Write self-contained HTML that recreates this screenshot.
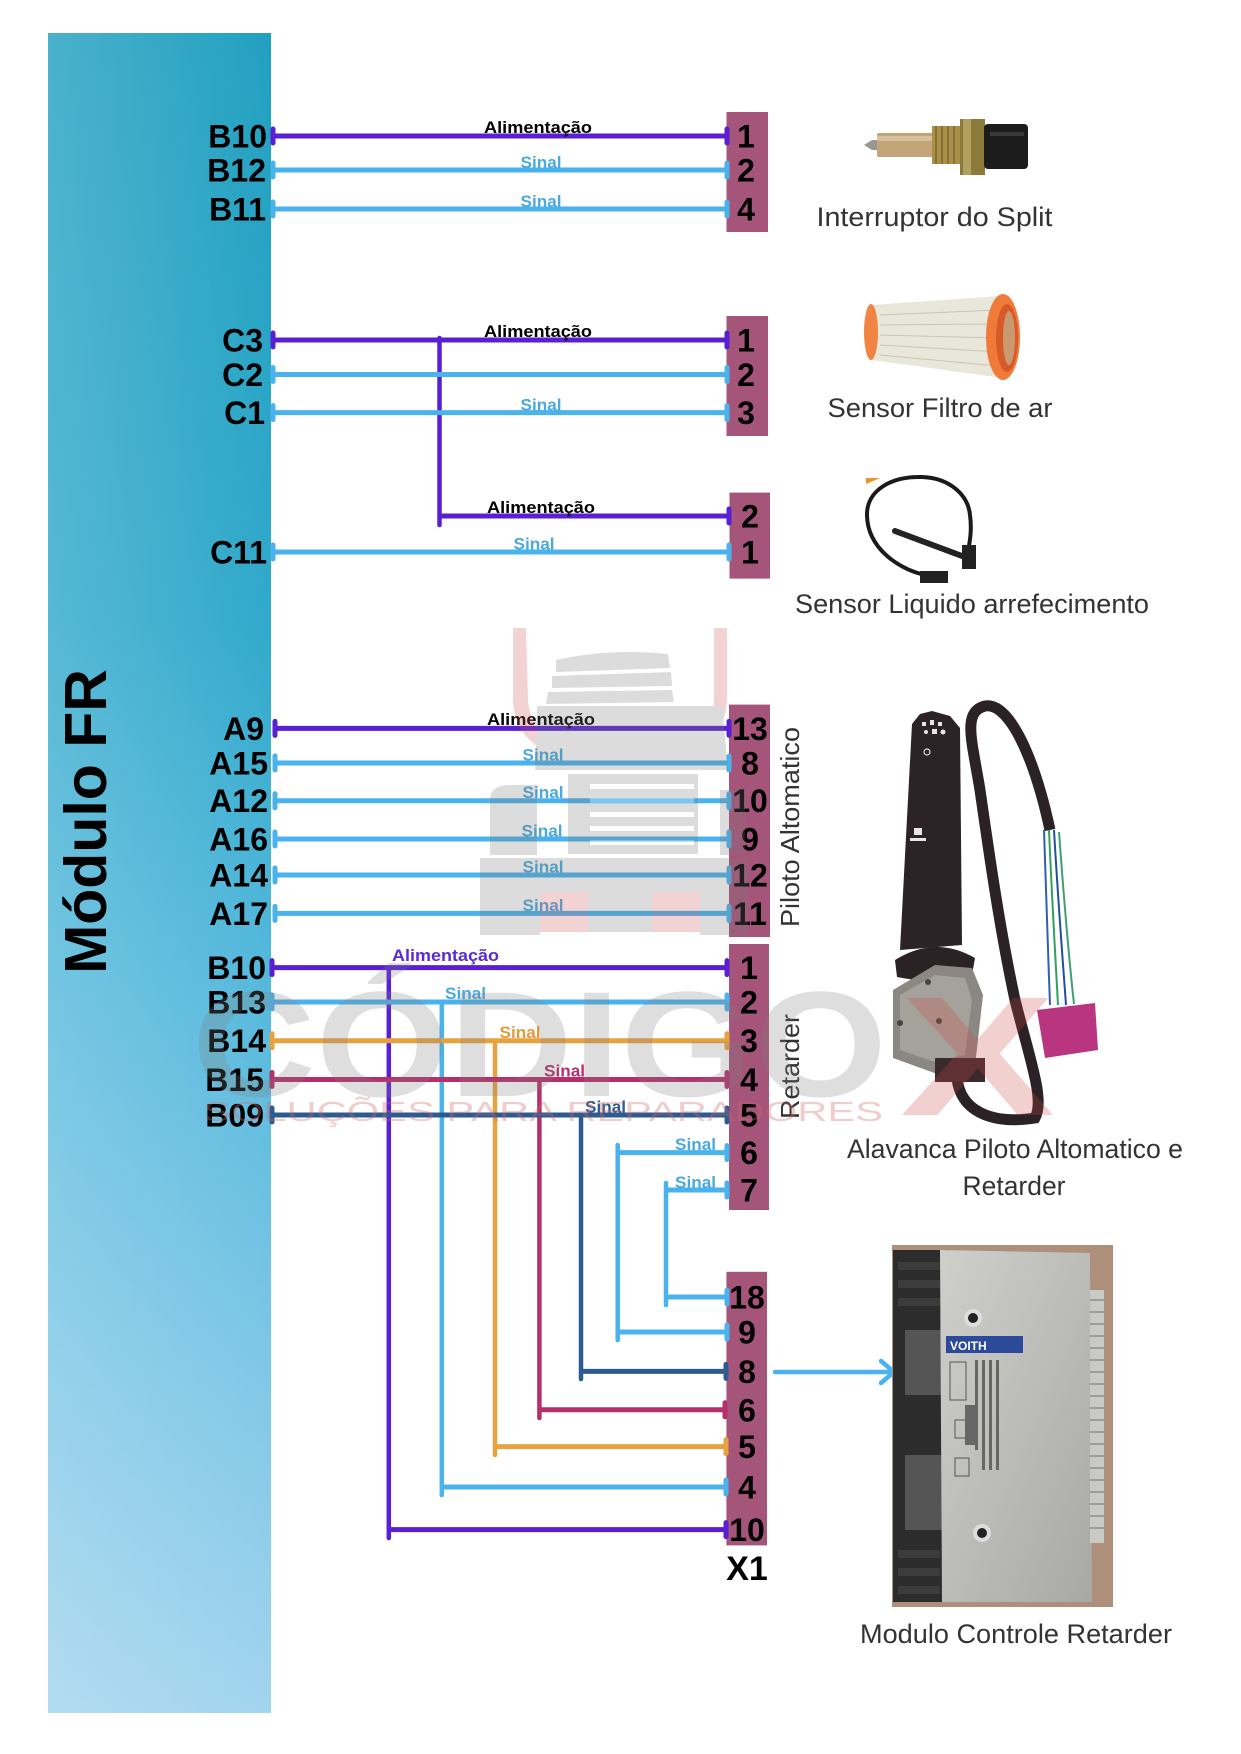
<!DOCTYPE html>
<html><head><meta charset="utf-8"><style>html,body{margin:0;padding:0;background:#fff}svg{display:block}</style></head>
<body>
<svg width="1241" height="1754" viewBox="0 0 1241 1754" xmlns="http://www.w3.org/2000/svg" font-family="'Liberation Sans', Arial, sans-serif">
<defs>
 <linearGradient id="bar" gradientUnits="userSpaceOnUse" x1="0" y1="33" x2="0" y2="1713">
  <stop offset="0" stop-color="#22a0c0"/>
  <stop offset="0.35" stop-color="#31a9cb"/>
  <stop offset="0.57" stop-color="#56b9dc"/>
  <stop offset="0.78" stop-color="#7cc6e6"/>
  <stop offset="1" stop-color="#a2d4ee"/>
 </linearGradient>
 <linearGradient id="barh" x1="0" y1="0" x2="1" y2="0">
  <stop offset="0" stop-color="#fff" stop-opacity="0.18"/>
  <stop offset="1" stop-color="#fff" stop-opacity="0"/>
 </linearGradient>
 <linearGradient id="silver" x1="0" y1="0" x2="1" y2="1">
  <stop offset="0" stop-color="#cfcfcc"/>
  <stop offset="1" stop-color="#a8a8a5"/>
 </linearGradient>
</defs>
<rect width="1241" height="1754" fill="#fff"/>
<rect x="48" y="33" width="223" height="1680" fill="url(#bar)"/>
<rect x="48" y="33" width="223" height="1680" fill="url(#barh)"/>
<text transform="translate(106,821.5) rotate(-90)" text-anchor="middle" font-size="59" font-weight="bold" fill="#000">Módulo FR</text>

<!-- connector boxes -->
<g fill="#a6557a">
 <rect x="726.5" y="112" width="41.5" height="120"/>
 <rect x="726.5" y="316" width="41.5" height="120"/>
 <rect x="729.5" y="492.6" width="40.5" height="86"/>
 <rect x="729" y="704.6" width="41" height="232.4"/>
 <rect x="729" y="944" width="40" height="266"/>
 <rect x="726.4" y="1271.8" width="40.6" height="273.6"/>
</g>

<!-- purple -->
<g stroke="#5a1fd3" fill="none" stroke-linecap="round">
 <g stroke-width="5" stroke-linecap="butt">
  <line x1="273" y1="136" x2="727" y2="136"/>
  <line x1="273" y1="340" x2="727" y2="340"/>
  <line x1="439.5" y1="516" x2="729" y2="516"/>
  <line x1="275" y1="728.4" x2="729" y2="728.4"/>
  <line x1="272" y1="967.6" x2="727" y2="967.6"/>
  <line x1="388.8" y1="1529.6" x2="726" y2="1529.6"/>
 </g>
 <g stroke-width="4.5">
  <line x1="439.5" y1="338" x2="439.5" y2="525"/>
  <line x1="388.8" y1="967.6" x2="388.8" y2="1538"/>
 </g>
 <g stroke-width="5">
  <line x1="273" y1="129" x2="273" y2="143"/><line x1="727" y1="129" x2="727" y2="143"/>
  <line x1="273" y1="333" x2="273" y2="347"/><line x1="727" y1="333" x2="727" y2="347"/>
  <line x1="729" y1="509" x2="729" y2="523"/>
  <line x1="275" y1="721.4" x2="275" y2="735.4"/><line x1="729" y1="721.4" x2="729" y2="735.4"/>
  <line x1="272" y1="960.6" x2="272" y2="974.6"/><line x1="727" y1="960.6" x2="727" y2="974.6"/>
  <line x1="726" y1="1522.6" x2="726" y2="1536.6"/>
 </g>
</g>

<!-- light blue -->
<g stroke="#4ab2ec" fill="none" stroke-linecap="round">
 <g stroke-width="5" stroke-linecap="butt">
  <line x1="273" y1="170" x2="727" y2="170"/>
  <line x1="273" y1="209" x2="727" y2="209"/>
  <line x1="273" y1="374.5" x2="727" y2="374.5"/>
  <line x1="273" y1="412.6" x2="727" y2="412.6"/>
  <line x1="273" y1="552" x2="729" y2="552"/>
  <line x1="275" y1="763" x2="729" y2="763"/>
  <line x1="275" y1="800.7" x2="729" y2="800.7"/>
  <line x1="275" y1="839" x2="729" y2="839"/>
  <line x1="275" y1="875" x2="729" y2="875"/>
  <line x1="275" y1="913.4" x2="729" y2="913.4"/>
  <line x1="272" y1="1002" x2="727" y2="1002"/>
  <line x1="617.7" y1="1152.6" x2="727" y2="1152.6"/>
  <line x1="666" y1="1190" x2="727" y2="1190"/>
  <line x1="666" y1="1297" x2="727" y2="1297"/>
  <line x1="617.7" y1="1332" x2="727" y2="1332"/>
  <line x1="441.8" y1="1487" x2="726" y2="1487"/>
 </g>
 <g stroke-width="4.5">
  <line x1="441.8" y1="1002" x2="441.8" y2="1495"/>
  <line x1="617.7" y1="1145" x2="617.7" y2="1340"/>
  <line x1="666" y1="1183" x2="666" y2="1305"/>
 </g>
 <g stroke-width="5">
  <line x1="273" y1="163" x2="273" y2="177"/><line x1="727" y1="163" x2="727" y2="177"/>
  <line x1="273" y1="202" x2="273" y2="216"/><line x1="727" y1="202" x2="727" y2="216"/>
  <line x1="273" y1="367.5" x2="273" y2="381.5"/><line x1="727" y1="367.5" x2="727" y2="381.5"/>
  <line x1="273" y1="405.6" x2="273" y2="419.6"/><line x1="727" y1="405.6" x2="727" y2="419.6"/>
  <line x1="273" y1="545" x2="273" y2="559"/><line x1="729" y1="545" x2="729" y2="559"/>
  <line x1="275" y1="756" x2="275" y2="770"/><line x1="729" y1="756" x2="729" y2="770"/>
  <line x1="275" y1="793.7" x2="275" y2="807.7"/><line x1="729" y1="793.7" x2="729" y2="807.7"/>
  <line x1="275" y1="832" x2="275" y2="846"/><line x1="729" y1="832" x2="729" y2="846"/>
  <line x1="275" y1="868" x2="275" y2="882"/><line x1="729" y1="868" x2="729" y2="882"/>
  <line x1="275" y1="906.4" x2="275" y2="920.4"/><line x1="729" y1="906.4" x2="729" y2="920.4"/>
  <line x1="272" y1="995" x2="272" y2="1009"/><line x1="727" y1="995" x2="727" y2="1009"/>
  <line x1="727" y1="1145.6" x2="727" y2="1159.6"/>
  <line x1="727" y1="1183" x2="727" y2="1197"/>
  <line x1="727" y1="1290" x2="727" y2="1304"/>
  <line x1="727" y1="1325" x2="727" y2="1339"/>
  <line x1="726" y1="1480" x2="726" y2="1494"/>
 </g>
 <!-- arrow -->
 <line x1="775" y1="1372" x2="893" y2="1372" stroke-width="4.5"/>
 <polyline points="881,1361 894,1372 881,1383" stroke-width="4.5" stroke-linejoin="round"/>
</g>

<!-- orange -->
<g stroke="#e7a240" fill="none" stroke-linecap="round">
 <line x1="272" y1="1040.7" x2="727" y2="1040.7" stroke-width="5" stroke-linecap="butt"/>
 <line x1="495" y1="1446.6" x2="726" y2="1446.6" stroke-width="5" stroke-linecap="butt"/>
 <line x1="495" y1="1040.7" x2="495" y2="1455" stroke-width="4.5"/>
 <g stroke-width="5">
  <line x1="272" y1="1033.7" x2="272" y2="1047.7"/><line x1="727" y1="1033.7" x2="727" y2="1047.7"/>
  <line x1="726" y1="1439.6" x2="726" y2="1453.6"/>
 </g>
</g>

<!-- magenta -->
<g stroke="#b52f6a" fill="none" stroke-linecap="round">
 <line x1="272" y1="1079.5" x2="727" y2="1079.5" stroke-width="5" stroke-linecap="butt"/>
 <line x1="539.4" y1="1409.8" x2="725" y2="1409.8" stroke-width="5" stroke-linecap="butt"/>
 <line x1="539.4" y1="1079.5" x2="539.4" y2="1418" stroke-width="4.5"/>
 <g stroke-width="5">
  <line x1="272" y1="1072.5" x2="272" y2="1086.5"/><line x1="727" y1="1072.5" x2="727" y2="1086.5"/>
  <line x1="725" y1="1402.8" x2="725" y2="1416.8"/>
 </g>
</g>

<!-- dark blue -->
<g stroke="#2e5b8f" fill="none" stroke-linecap="round">
 <line x1="272" y1="1115" x2="727" y2="1115" stroke-width="5" stroke-linecap="butt"/>
 <line x1="581" y1="1371.4" x2="726" y2="1371.4" stroke-width="5" stroke-linecap="butt"/>
 <line x1="581" y1="1115" x2="581" y2="1379" stroke-width="4.5"/>
 <g stroke-width="5">
  <line x1="272" y1="1108" x2="272" y2="1122"/><line x1="727" y1="1108" x2="727" y2="1122"/>
  <line x1="726" y1="1364.4" x2="726" y2="1378.4"/>
 </g>
</g>

<!-- left labels -->
<g font-size="32" font-weight="bold" fill="#000" text-anchor="end">
 <text x="267" y="147.5">B10</text>
 <text x="266" y="181.5">B12</text>
 <text x="266" y="220.5">B11</text>
 <text x="263" y="351.5">C3</text>
 <text x="263" y="386">C2</text>
 <text x="265" y="424">C1</text>
 <text x="267" y="563.5">C11</text>
 <text x="264" y="740">A9</text>
 <text x="268" y="774.5">A15</text>
 <text x="268" y="812">A12</text>
 <text x="268" y="850.5">A16</text>
 <text x="268" y="886.5">A14</text>
 <text x="268" y="925">A17</text>
 <text x="266" y="979">B10</text>
 <text x="266" y="1013.5">B13</text>
 <text x="266" y="1052">B14</text>
 <text x="264" y="1091">B15</text>
 <text x="264" y="1126.5">B09</text>
</g>

<!-- pin numbers -->
<g font-size="32" font-weight="bold" fill="#000" text-anchor="middle">
 <text x="746" y="147.5">1</text>
 <text x="746" y="181.5">2</text>
 <text x="746" y="220.5">4</text>
 <text x="746" y="351.5">1</text>
 <text x="746" y="386">2</text>
 <text x="746" y="424">3</text>
 <text x="750" y="527.5">2</text>
 <text x="750" y="563.5">1</text>
 <text x="750" y="740">13</text>
 <text x="750" y="774.5">8</text>
 <text x="750" y="812">10</text>
 <text x="750" y="850.5">9</text>
 <text x="750" y="886.5">12</text>
 <text x="750" y="925">11</text>
 <text x="749" y="979">1</text>
 <text x="749" y="1013.5">2</text>
 <text x="749" y="1052">3</text>
 <text x="749" y="1091">4</text>
 <text x="749" y="1126.5">5</text>
 <text x="749" y="1164">6</text>
 <text x="749" y="1201.5">7</text>
 <text x="747" y="1308.5">18</text>
 <text x="747" y="1343.5">9</text>
 <text x="747" y="1383">8</text>
 <text x="747" y="1421.5">6</text>
 <text x="747" y="1458">5</text>
 <text x="747" y="1498.5">4</text>
 <text x="747" y="1541">10</text>
</g>
<text x="747" y="1580" font-size="34" font-weight="bold" text-anchor="middle" fill="#000">X1</text>

<!-- wire labels -->
<g font-size="17" font-weight="bold">
 <g fill="#000" text-anchor="middle">
  <text x="538" y="133" textLength="108" lengthAdjust="spacingAndGlyphs">Alimentação</text>
  <text x="538" y="337" textLength="108" lengthAdjust="spacingAndGlyphs">Alimentação</text>
  <text x="541" y="513" textLength="108" lengthAdjust="spacingAndGlyphs">Alimentação</text>
  <text x="541" y="725" textLength="108" lengthAdjust="spacingAndGlyphs">Alimentação</text>
 </g>
 <text x="392" y="961" fill="#5a2bd0" textLength="107" lengthAdjust="spacingAndGlyphs">Alimentação</text>
 <g fill="#4aa9de" text-anchor="middle">
  <text x="541" y="168" textLength="41" lengthAdjust="spacingAndGlyphs">Sinal</text>
  <text x="541" y="207" textLength="41" lengthAdjust="spacingAndGlyphs">Sinal</text>
  <text x="541" y="410.5" textLength="41" lengthAdjust="spacingAndGlyphs">Sinal</text>
  <text x="534" y="549.5" textLength="41" lengthAdjust="spacingAndGlyphs">Sinal</text>
  <text x="543" y="760.5" textLength="41" lengthAdjust="spacingAndGlyphs">Sinal</text>
  <text x="543" y="798" textLength="41" lengthAdjust="spacingAndGlyphs">Sinal</text>
  <text x="542" y="836.5" textLength="41" lengthAdjust="spacingAndGlyphs">Sinal</text>
  <text x="543" y="872.5" textLength="41" lengthAdjust="spacingAndGlyphs">Sinal</text>
  <text x="543" y="911" textLength="41" lengthAdjust="spacingAndGlyphs">Sinal</text>
 </g>
 <text x="445" y="999" fill="#4aa9de" textLength="41" lengthAdjust="spacingAndGlyphs">Sinal</text>
 <text x="499.5" y="1038" fill="#e39b3a" textLength="41" lengthAdjust="spacingAndGlyphs">Sinal</text>
 <text x="544" y="1076.5" fill="#b52f6a" textLength="41" lengthAdjust="spacingAndGlyphs">Sinal</text>
 <text x="585" y="1112.5" fill="#2e5b8f" textLength="41" lengthAdjust="spacingAndGlyphs">Sinal</text>
 <text x="675" y="1150" fill="#4aa9de" textLength="41" lengthAdjust="spacingAndGlyphs">Sinal</text>
 <text x="675" y="1188" fill="#4aa9de" textLength="41" lengthAdjust="spacingAndGlyphs">Sinal</text>
</g>

<!-- vertical connector names -->
<text transform="translate(799,827) rotate(-90)" text-anchor="middle" font-size="26" fill="#333" textLength="200" lengthAdjust="spacingAndGlyphs">Piloto Altomatico</text>
<text transform="translate(799,1066.5) rotate(-90)" text-anchor="middle" font-size="26" fill="#333" textLength="105" lengthAdjust="spacingAndGlyphs">Retarder</text>

<!-- Interruptor do Split image -->
<g>
 <path d="M864 145 L872 140 L878 140 L878 150 L872 150 Z" fill="#9a9690"/>
 <rect x="877" y="133" width="56" height="24" rx="2" fill="#c4a57a"/>
 <rect x="877" y="136" width="56" height="5" fill="#d8c09a"/>
 <rect x="932" y="126" width="28" height="38" fill="#a89048"/>
 <g stroke="#7a6630" stroke-width="1.5"><line x1="936" y1="126" x2="936" y2="164"/><line x1="942" y1="126" x2="942" y2="164"/><line x1="948" y1="126" x2="948" y2="164"/><line x1="954" y1="126" x2="954" y2="164"/></g>
 <rect x="960" y="119" width="25" height="56" fill="#8c7a3a"/>
 <rect x="963" y="119" width="8" height="56" fill="#b0a060"/>
 <rect x="984" y="124" width="44" height="45" rx="4" fill="#1c1c1c"/>
 <rect x="990" y="132" width="34" height="4" fill="#3a3a3a"/>
</g>
<text x="934.5" y="226" text-anchor="middle" font-size="27" fill="#333" textLength="236" lengthAdjust="spacingAndGlyphs">Interruptor do Split</text>

<!-- Filtro de ar image -->
<g>
 <path d="M872 305 L1000 296 L1003 378 L872 360 Z" fill="#e9e6da"/>
 <g stroke="#c9c5b5" stroke-width="1">
  <line x1="880" y1="315" x2="998" y2="310"/><line x1="880" y1="325" x2="998" y2="324"/><line x1="880" y1="335" x2="998" y2="338"/><line x1="880" y1="345" x2="998" y2="352"/><line x1="880" y1="355" x2="998" y2="366"/>
 </g>
 <ellipse cx="871" cy="332" rx="7" ry="28" fill="#f08444"/>
 <ellipse cx="1003" cy="337" rx="17" ry="43" fill="#f07a3a"/>
 <ellipse cx="1007" cy="338" rx="11" ry="34" fill="#d85a28"/>
 <ellipse cx="1009" cy="338" rx="6" ry="27" fill="#c99a70"/>
</g>
<text x="940" y="417" text-anchor="middle" font-size="27" fill="#333" textLength="225" lengthAdjust="spacingAndGlyphs">Sensor Filtro de ar</text>

<!-- Sensor liquido image -->
<g>
 <polygon points="866,478 880,478 866,484" fill="#f0902a"/>
 <path d="M921 574 C 898 568, 868 548, 867 516 C 866 490, 892 476, 922 477 C 950 478, 968 495, 970 515 C 972 530, 970 540, 968 552" stroke="#1a1a1a" stroke-width="4" fill="none"/>
 <line x1="895" y1="531" x2="962" y2="556" stroke="#222" stroke-width="6" stroke-linecap="round"/>
 <rect x="920" y="571" width="28" height="12" fill="#222"/>
 <rect x="962" y="545" width="14" height="24" fill="#222"/>
</g>
<text x="972" y="613" text-anchor="middle" font-size="27" fill="#333" textLength="354" lengthAdjust="spacingAndGlyphs">Sensor Liquido arrefecimento</text>

<!-- Alavanca image -->
<g>
 <path d="M957 1078 C 960 1110, 990 1125, 1035 1118 C 1045 1100, 1030 1060, 1015 1000 C 1000 930, 990 860, 980 790 C 972 740, 962 712, 985 706 C 1010 702, 1035 760, 1050 830" stroke="#2a2224" stroke-width="11" fill="none"/>
 <g stroke-width="2" fill="none">
  <path d="M1044 830 C 1046 900, 1048 950, 1050 1005" stroke="#3060b0"/>
  <path d="M1049 830 C 1052 900, 1055 950, 1058 1005" stroke="#30a060"/>
  <path d="M1054 830 C 1058 900, 1062 950, 1066 1005" stroke="#2050a0"/>
  <path d="M1059 832 C 1064 900, 1068 950, 1074 1004" stroke="#40a070"/>
 </g>
 <polygon points="1037,1010 1095,1003 1098,1050 1045,1058" fill="#b93580"/>
 <path d="M912 724 L920 714 L932 711 L950 716 L960 728 L962 945 L900 950 Z" fill="#2b2326"/>
 <g fill="#e6e6e6"><rect x="922" y="722" width="4" height="4"/><rect x="930" y="720" width="4" height="5"/><rect x="938" y="722" width="4" height="4"/><circle cx="926" cy="732" r="2"/><rect x="932" y="729" width="5" height="5"/><circle cx="943" cy="732" r="2.5"/><circle cx="927" cy="752" r="3" fill="none" stroke="#e6e6e6" stroke-width="1.2"/><rect x="914" y="828" width="8" height="7"/><rect x="910" y="838" width="16" height="3"/></g>
 <path d="M895 960 Q935 935 975 958 L972 975 Q935 985 897 977 Z" fill="#2a2224"/>
 <polygon points="893,990 935,965 972,968 983,995 975,1066 940,1075 893,1058" fill="#8b8782"/>
 <polygon points="900,995 935,975 965,978 972,1000 965,1055 935,1062 900,1050" fill="#a5a19b"/>
 <g fill="#444"><circle cx="928" cy="982" r="3"/><circle cx="900" cy="1023" r="3"/><circle cx="939" cy="1021" r="3"/></g>
 <rect x="935" y="1058" width="50" height="24" fill="#3a2a2e"/>
</g>
<text x="1015" y="1158" text-anchor="middle" font-size="27" fill="#333" textLength="336" lengthAdjust="spacingAndGlyphs">Alavanca Piloto Altomatico e</text>
<text x="1014" y="1195" text-anchor="middle" font-size="27" fill="#333" textLength="103" lengthAdjust="spacingAndGlyphs">Retarder</text>

<!-- Modulo controle retarder image -->
<g>
 <rect x="892" y="1245" width="221" height="362" fill="#ad8f7b"/>
 <rect x="893" y="1250" width="57" height="352" fill="#2c2c2c"/>
 <g fill="#3c3c3c"><rect x="898" y="1262" width="42" height="8"/><rect x="898" y="1280" width="42" height="8"/><rect x="898" y="1298" width="42" height="8"/><rect x="898" y="1550" width="42" height="8"/><rect x="898" y="1568" width="42" height="8"/><rect x="898" y="1586" width="42" height="8"/></g>
 <rect x="905" y="1330" width="40" height="65" fill="#555"/>
 <rect x="905" y="1455" width="40" height="75" fill="#555"/>
 <polygon points="940,1250 1090,1253 1092,1602 942,1602" fill="url(#silver)"/>
 <rect x="1090" y="1290" width="14" height="253" fill="#c9c9c6"/>
 <g stroke="#8d8d8a" stroke-width="1.5">
  <line x1="1090" y1="1300" x2="1104" y2="1300"/><line x1="1090" y1="1312" x2="1104" y2="1312"/><line x1="1090" y1="1324" x2="1104" y2="1324"/><line x1="1090" y1="1336" x2="1104" y2="1336"/><line x1="1090" y1="1348" x2="1104" y2="1348"/><line x1="1090" y1="1360" x2="1104" y2="1360"/><line x1="1090" y1="1372" x2="1104" y2="1372"/><line x1="1090" y1="1384" x2="1104" y2="1384"/><line x1="1090" y1="1396" x2="1104" y2="1396"/><line x1="1090" y1="1408" x2="1104" y2="1408"/><line x1="1090" y1="1420" x2="1104" y2="1420"/><line x1="1090" y1="1432" x2="1104" y2="1432"/><line x1="1090" y1="1444" x2="1104" y2="1444"/><line x1="1090" y1="1456" x2="1104" y2="1456"/><line x1="1090" y1="1468" x2="1104" y2="1468"/><line x1="1090" y1="1480" x2="1104" y2="1480"/><line x1="1090" y1="1492" x2="1104" y2="1492"/><line x1="1090" y1="1504" x2="1104" y2="1504"/><line x1="1090" y1="1516" x2="1104" y2="1516"/><line x1="1090" y1="1528" x2="1104" y2="1528"/>
 </g>
 <rect x="946" y="1336" width="77" height="17" fill="#2d4a9a"/>
 <text x="950" y="1350" font-size="12" font-weight="bold" fill="#fff">VOITH</text>
 <g fill="none" stroke="#555" stroke-width="1"><rect x="950" y="1362" width="16" height="38"/><rect x="955" y="1420" width="14" height="18"/><rect x="955" y="1458" width="14" height="18"/></g>
 <g fill="#666"><rect x="975" y="1360" width="3" height="90"/><rect x="982" y="1360" width="3" height="110"/><rect x="989" y="1360" width="3" height="110"/><rect x="996" y="1360" width="3" height="110"/><rect x="965" y="1405" width="10" height="40"/></g>
 <circle cx="973" cy="1318" r="9" fill="#ddd"/><circle cx="973" cy="1318" r="5" fill="#222"/>
 <circle cx="982" cy="1533" r="9" fill="#ddd"/><circle cx="982" cy="1533" r="5" fill="#222"/>
</g>
<text x="1016" y="1643" text-anchor="middle" font-size="27" fill="#333" textLength="312" lengthAdjust="spacingAndGlyphs">Modulo Controle Retarder</text>

<!-- watermark truck -->
<g opacity="0.26">
 <g fill="#cc5a5a">
  <path d="M513 628 L526 628 L528 700 Q530 728 552 742 L545 750 Q514 735 513 700 Z"/>
  <path d="M714 628 L727 628 L727 700 Q725 725 712 742 L704 735 Q714 720 714 700 Z"/>
  <rect x="540" y="892" width="48" height="40"/>
  <rect x="652" y="892" width="48" height="40"/>
 </g>
 <g fill="#7a7a7a">
  <path d="M556 660 Q610 648 668 654 L670 668 L556 672 Z"/>
  <path d="M552 676 L671 672 L672 686 L552 688 Z"/>
  <path d="M548 692 L672 690 L674 702 L546 704 Z"/>
  <path d="M537 706 L722 706 L728 770 L535 770 Z"/>
  <path d="M490 800 Q490 785 510 785 L537 785 L537 855 L490 855 Z"/>
  <rect x="720" y="790" width="25" height="65"/>
  <rect x="568" y="774" width="130" height="80"/>
  <rect x="480" y="858" width="268" height="34"/>
  <rect x="480" y="892" width="60" height="43"/>
  <rect x="700" y="892" width="48" height="43"/>
  <rect x="588" y="892" width="64" height="40"/>
 </g>
 <g fill="#fff">
  <rect x="590" y="784" width="104" height="5"/>
  <rect x="590" y="798" width="104" height="5"/>
  <rect x="590" y="812" width="104" height="5"/>
  <rect x="590" y="826" width="104" height="5"/>
  <rect x="590" y="840" width="104" height="5"/>
 </g>
</g>

<!-- watermark text -->
<text x="192" y="1096" font-size="150" font-weight="bold" fill="#808080" opacity="0.25" textLength="695" lengthAdjust="spacingAndGlyphs">CÓDIGO</text>
<text x="900" y="1115" font-size="170" font-weight="bold" fill="#d04848" opacity="0.25" textLength="155" lengthAdjust="spacingAndGlyphs">X</text>
<text x="203" y="1121" font-size="28" fill="#d06a6a" opacity="0.33" textLength="680" lengthAdjust="spacingAndGlyphs">SOLUÇÕES PARA REPARADORES</text>
</svg>
</body></html>
